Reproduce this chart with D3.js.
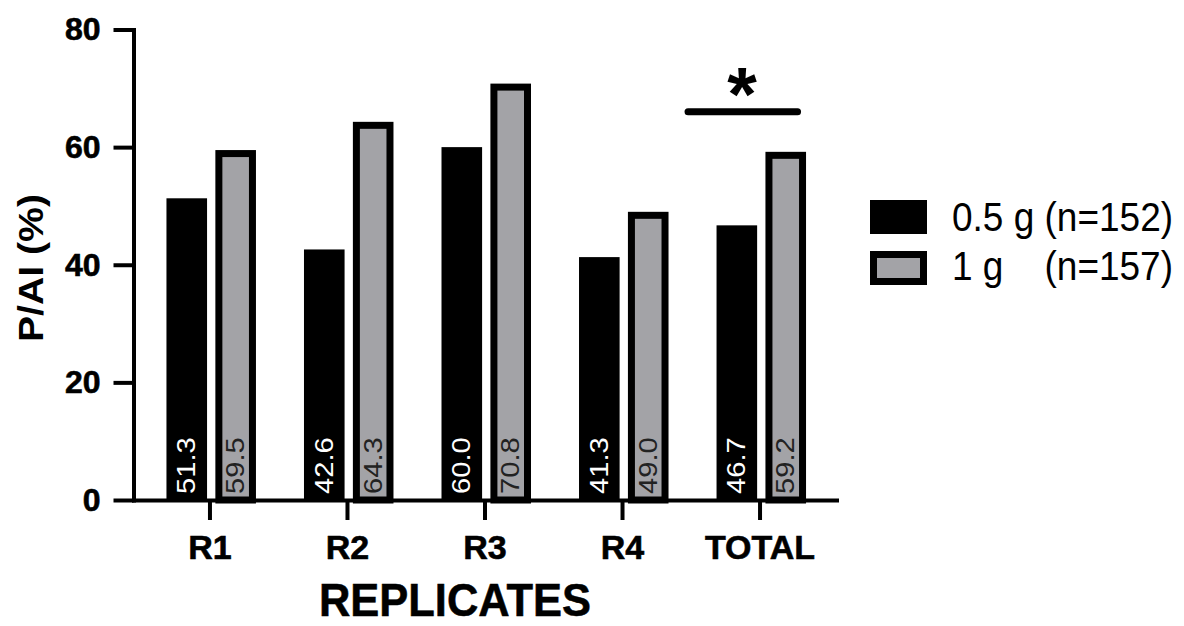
<!DOCTYPE html>
<html>
<head>
<meta charset="utf-8">
<script src="https://cdn.jsdelivr.net/npm/d3@7"></script>
<style>
  body { margin: 0; background: #fff; }
  svg text { font-family: "Liberation Sans", Arial, sans-serif; }
</style>
</head>
<body>
<div id="chart"></div>
<script>
// data
var categories = ["R1", "R2", "R3", "R4", "TOTAL"];
var groups = ["0.5 g", "1 g"];
var counts = [152, 157];
var dose05 = [51.3, 42.6, 60.0, 41.3, 46.7];
var dose1 = [59.5, 64.3, 70.8, 49.0, 59.2];
var yTicks = [0, 20, 40, 60, 80];
var sigValue = 66;  // height of the significance bar over TOTAL

var svgWidth = 1184;
var svgHeight = 626;

var black = "#000";
var grey = "#a3a3a7";
var border = 7;

var svg = d3.select("#chart")
  .append("svg")
  .attr("width", svgWidth)
  .attr("height", svgHeight);

// scales
var y = d3.scaleLinear()
  .domain([0, 80])
  .range([500, 29.5]);

var x = d3.scaleBand()
  .domain(categories)
  .range([133.5, 836.5])
  .paddingInner(0)
  .paddingOuter(0.056);

var xSub = d3.scaleBand()
  .domain(groups)
  .range([-43.5, 46])
  .paddingInner(0.17);

function center(cat) {
  return x(cat) + x.bandwidth() / 2;
}

var rows = categories.map(function(c, i) {
  return { cat: c, a: dose05[i], b: dose1[i] };
});

// bars: 0.5 g (solid black)
svg.selectAll(".barA")
  .data(rows)
  .enter()
  .append("rect")
  .attr("class", "barA")
  .attr("x", d => center(d.cat) + xSub(groups[0]))
  .attr("y", d => y(d.a))
  .attr("width", xSub.bandwidth())
  .attr("height", d => y(0) - y(d.a))
  .attr("fill", black);

// bars: 1 g (grey with thick black border drawn inside)
svg.selectAll(".barB")
  .data(rows)
  .enter()
  .append("rect")
  .attr("class", "barB")
  .attr("x", d => center(d.cat) + xSub(groups[1]) + border / 2)
  .attr("y", d => y(d.b) + border / 2)
  .attr("width", xSub.bandwidth() - border)
  .attr("height", d => y(0) - y(d.b) - border / 2)
  .attr("fill", grey)
  .attr("stroke", black)
  .attr("stroke-width", border);

// value labels, rotated at bar foot
svg.selectAll(".labA")
  .data(rows)
  .enter()
  .append("text")
  .attr("class", "labA")
  .attr("transform", d => `translate(${center(d.cat) + xSub(groups[0]) + xSub.bandwidth() / 2 + 8.5}, 494) rotate(-90) scale(1.12, 1)`)
  .attr("fill", "#fff")
  .attr("font-size", 26)
  .text(d => d.a.toFixed(1));

svg.selectAll(".labB")
  .data(rows)
  .enter()
  .append("text")
  .attr("class", "labB")
  .attr("transform", d => `translate(${center(d.cat) + xSub(groups[1]) + xSub.bandwidth() / 2 + 8.5}, 494) rotate(-90) scale(1.12, 1)`)
  .attr("fill", "#222")
  .attr("font-size", 26)
  .text(d => d.b.toFixed(1));

// axes
var leftAxis = d3.axisLeft(y)
  .tickValues(yTicks)
  .tickSize(20)
  .tickSizeOuter(0)
  .tickPadding(13);

var yAxis = svg.append("g")
  .attr("transform", "translate(133.5, 0)")
  .call(leftAxis);

var bottomAxis = d3.axisBottom(x)
  .tickSize(20)
  .tickSizeOuter(0)
  .tickPadding(15);

var xAxis = svg.append("g")
  .attr("transform", "translate(0, 500)")
  .call(bottomAxis);

[yAxis, xAxis].forEach(function(ax) {
  ax.select(".domain")
    .attr("stroke", black)
    .attr("stroke-width", 4)
    .attr("stroke-linecap", "square");
  ax.selectAll(".tick line")
    .attr("stroke", black)
    .attr("stroke-width", 4);
  ax.selectAll(".tick text")
    .attr("fill", black)
    .attr("stroke", black)
    .attr("stroke-width", 0.6)
    .attr("font-weight", "bold");
});
yAxis.selectAll(".tick text").attr("font-size", 32);
xAxis.selectAll(".tick text").attr("font-size", 34);

// axis titles
svg.append("text")
  .attr("transform", "translate(43, 268) rotate(-90) scale(1.12, 1)")
  .attr("text-anchor", "middle")
  .attr("font-size", 35)
  .attr("font-weight", "bold")
  .text("P/AI (%)");

svg.append("text")
  .attr("transform", "translate(455, 616) scale(1, 1.08)")
  .attr("text-anchor", "middle")
  .attr("font-size", 43.5)
  .attr("font-weight", "bold")
  .attr("stroke", black)
  .attr("stroke-width", 0.5)
  .text("REPLICATES");

// significance marker over TOTAL
var tc = center("TOTAL");
svg.append("line")
  .attr("x1", tc - 72)
  .attr("x2", tc + 37.5)
  .attr("y1", y(sigValue))
  .attr("y2", y(sigValue))
  .attr("stroke", black)
  .attr("stroke-width", 7)
  .attr("stroke-linecap", "round");

svg.append("text")
  .attr("x", tc - 18)
  .attr("y", 120)
  .attr("text-anchor", "middle")
  .attr("font-size", 76)
  .attr("font-weight", "bold")
  .text("*");

// legend
var legend = svg.append("g");

legend.append("rect")
  .attr("x", 870)
  .attr("y", 200)
  .attr("width", 57)
  .attr("height", 34)
  .attr("fill", black);

legend.append("rect")
  .attr("x", 870 + border / 2)
  .attr("y", 251 + border / 2)
  .attr("width", 57 - border)
  .attr("height", 34 - border)
  .attr("fill", grey)
  .attr("stroke", black)
  .attr("stroke-width", border);

var label1 = `${groups[0]} (n=${counts[0]})`;
var line1 = legend.append("text")
  .attr("transform", "translate(952, 231) scale(1, 1.1)")
  .attr("font-size", 37)
  .text(label1);

// align the second "(n=...)" with the first one
var parenX = line1.node().getStartPositionOfChar(label1.indexOf("(")).x;

var line2 = legend.append("text")
  .attr("transform", "translate(952, 280) scale(1, 1.1)")
  .attr("font-size", 37);
line2.append("tspan").attr("x", 0).text(groups[1]);
line2.append("tspan").attr("x", parenX).text(`(n=${counts[1]})`);
</script>
</body>
</html>
